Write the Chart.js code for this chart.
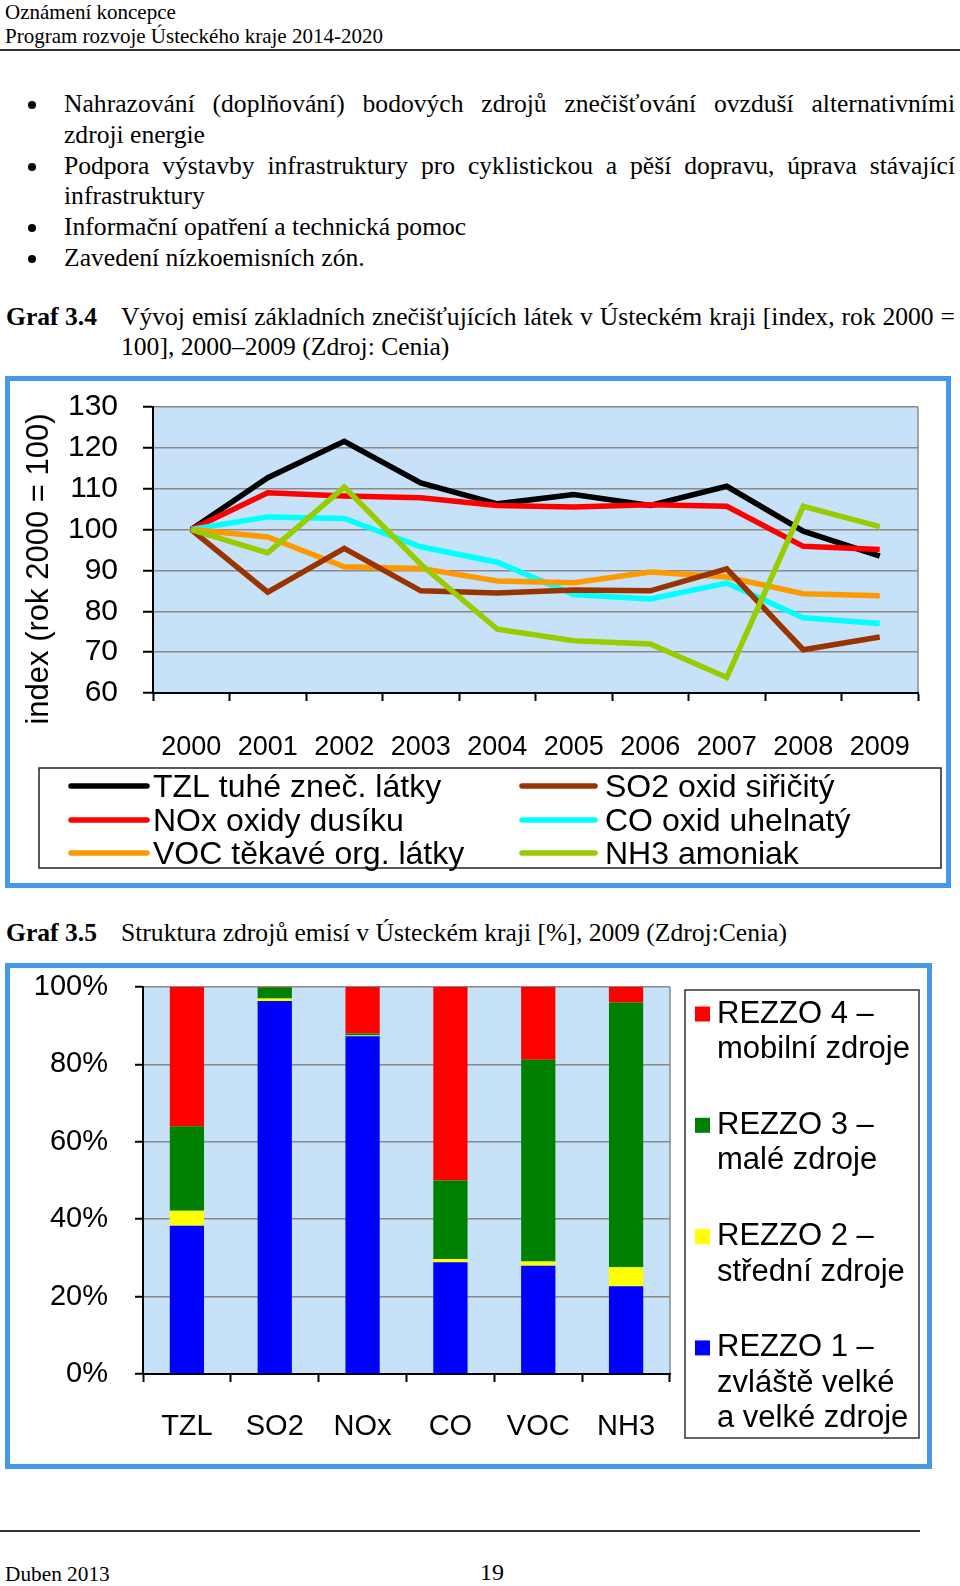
<!DOCTYPE html>
<html><head><meta charset="utf-8">
<script src="https://cdn.jsdelivr.net/npm/chart.js@4.4.0/dist/chart.umd.min.js"></script>
<style>
html,body{margin:0;padding:0;background:#fff;}
body{width:960px;height:1586px;position:relative;overflow:hidden;font-family:'Liberation Serif','Times New Roman',serif;color:#000;}
.t{position:absolute;white-space:nowrap;line-height:30px;font-size:25.6px;}
.j{text-align:justify;text-align-last:justify;white-space:nowrap;}
.hd{font-size:21px;}
.b{position:absolute;width:8px;height:8px;border-radius:50%;background:#000;left:28px;}
.rule{position:absolute;background:#333;height:2px;}
.frame{position:absolute;box-sizing:border-box;border:5px solid #4797ea;}
canvas{position:absolute;}
</style></head><body>

<div class="t hd" style="left:5px;top:-3px;">Oznámení koncepce</div>
<div class="t hd" style="left:5px;top:21px;">Program rozvoje Ústeckého kraje 2014-2020</div>
<div class="rule" style="left:0;top:49px;width:960px;"></div>

<div class="b" style="top:101px;"></div>
<div class="t j" style="left:64px;top:89px;width:891px;">Nahrazování (doplňování) bodových zdrojů znečišťování ovzduší alternativními</div>
<div class="t" style="left:64px;top:120px;">zdroji energie</div>
<div class="b" style="top:163px;"></div>
<div class="t j" style="left:64px;top:151px;width:891px;">Podpora výstavby infrastruktury pro cyklistickou a pěší dopravu, úprava stávající</div>
<div class="t" style="left:64px;top:181px;">infrastruktury</div>
<div class="b" style="top:224px;"></div>
<div class="t" style="left:64px;top:212px;">Informační opatření a technická pomoc</div>
<div class="b" style="top:255px;"></div>
<div class="t" style="left:64px;top:243px;">Zavedení nízkoemisních zón.</div>

<div class="t" style="left:6px;top:302px;font-weight:bold;">Graf 3.4</div>
<div class="t j" style="left:121px;top:302px;width:834px;">Vývoj emisí základních znečišťujících látek v Ústeckém kraji [index, rok 2000 =</div>
<div class="t" style="left:121px;top:332px;">100], 2000–2009 (Zdroj: Cenia)</div>

<div class="frame" style="left:5px;top:376px;width:946px;height:512px;"></div>
<canvas id="c1" width="936" height="502" style="left:10px;top:381px;"></canvas>

<div class="t" style="left:6px;top:918px;font-weight:bold;">Graf 3.5</div>
<div class="t" style="left:121px;top:918px;">Struktura zdrojů emisí v Ústeckém kraji [%], 2009 (Zdroj:Cenia)</div>

<div class="frame" style="left:5px;top:963px;width:927px;height:506px;"></div>
<canvas id="c2" width="917" height="496" style="left:10px;top:968px;"></canvas>

<div class="rule" style="left:0;top:1530px;width:920px;"></div>
<div class="t hd" style="left:5px;top:1559px;font-size:21.3px;">Duben 2013</div>
<div class="t" style="left:480px;top:1557px;font-size:24px;">19</div>

<script>
// ---------- data: chart 1 ----------
const years = ['2000','2001','2002','2003','2004','2005','2006','2007','2008','2009'];
const seriesNames = ['TZL tuhé zneč. látky','SO2 oxid siřičitý','NOx oxidy dusíku','CO oxid uhelnatý','VOC těkavé org. látky','NH3 amoniak'];
const tzl = [100, 112.7, 121.6, 111.4, 106.3, 108.6, 105.9, 110.6, 99.6, 93.5];
const so2 = [100, 84.7, 95.4, 85.0, 84.5, 85.2, 85.0, 90.4, 70.6, 73.7];
const nox = [100, 109.0, 108.2, 107.8, 105.9, 105.5, 106.1, 105.7, 95.9, 95.1];
const co  = [100, 103.1, 102.7, 95.8, 92.0, 84.1, 83.0, 86.9, 78.4, 77.0];
const voc = [100, 98.2, 90.9, 90.5, 87.4, 87.0, 89.6, 88.4, 84.3, 83.8];
const nh3 = [100, 94.3, 110.4, 91.5, 75.6, 72.8, 72.0, 63.8, 105.7, 100.7];
const yTicks1 = [60, 70, 80, 90, 100, 110, 120, 130];
const yTitle1 = 'index (rok 2000 = 100)';

// ---------- data: chart 2 ----------
const sources = ['TZL','SO2','NOx','CO','VOC','NH3'];
const rezzo1 = [38.3, 96.4, 87.3, 28.9, 28.0, 22.7];
const rezzo2 = [3.9, 0.6, 0.2, 0.8, 1.1, 4.9];
const rezzo3 = [21.8, 2.9, 0.5, 20.3, 52.1, 68.4];
const rezzo4 = [36.0, 0.1, 12.0, 50.0, 18.8, 4.0];
const rezzoNames = [['REZZO 1 –','zvláště velké','a velké zdroje'],['REZZO 2 –','střední zdroje'],['REZZO 3 –','malé zdroje'],['REZZO 4 –','mobilní zdroje']];
const yTicks2 = [0, 20, 40, 60, 80, 100];

const SANS = "'Liberation Sans', Arial, Helvetica, sans-serif";

const plotBg = {
  id: 'plotBg',
  beforeDraw(chart, args, o) {
    const {ctx, chartArea: a} = chart;
    ctx.save();
    ctx.fillStyle = o.color;
    ctx.fillRect(a.left, a.top, a.right - a.left, a.bottom - a.top);
    ctx.strokeStyle = o.border; ctx.lineWidth = 1.5;
    ctx.beginPath(); ctx.moveTo(a.right, a.top); ctx.lineTo(a.right, a.bottom); ctx.stroke();
    ctx.restore();
  }
};

const lineLegend = {
  id: 'lineLegend',
  afterDraw(chart, args, o) {
    const ctx = chart.ctx;
    ctx.save();
    ctx.strokeStyle = '#222'; ctx.lineWidth = 1.5;
    ctx.strokeRect(o.box[0], o.box[1], o.box[2], o.box[3]);
    ctx.font = o.font; ctx.textBaseline = 'middle'; ctx.fillStyle = '#000';
    chart.data.datasets.forEach((ds, i) => {
      const col = i % 2, row = Math.floor(i / 2);
      const y = o.rowY[row];
      const c = o.cols[col];
      ctx.strokeStyle = ds.borderColor; ctx.lineWidth = 5.5; ctx.lineCap = 'round';
      ctx.beginPath(); ctx.moveTo(c[0], y); ctx.lineTo(c[1], y); ctx.stroke();
      ctx.fillText(ds.label, c[2], y + 2);
    });
    // y-axis title
    ctx.translate(o.titleX, o.titleY);
    ctx.rotate(-Math.PI / 2);
    ctx.textAlign = 'center'; ctx.textBaseline = 'alphabetic';
    ctx.font = o.titleFont;
    ctx.fillText(o.title, 0, 0);
    ctx.restore();
  }
};

const boxLegend = {
  id: 'boxLegend',
  afterDraw(chart, args, o) {
    const ctx = chart.ctx;
    ctx.save();
    ctx.strokeStyle = '#333'; ctx.lineWidth = 1.5;
    ctx.strokeRect(o.box[0], o.box[1], o.box[2], o.box[3]);
    ctx.font = o.font; ctx.textBaseline = 'middle'; ctx.fillStyle = '#000';
    const n = chart.data.datasets.length;
    for (let k = 0; k < n; k++) {
      const ds = chart.data.datasets[n - 1 - k];
      const y0 = o.firstY + k * o.itemGap;
      ctx.fillStyle = ds.backgroundColor;
      ctx.fillRect(o.sqX, y0 - o.sq / 2, o.sq, o.sq);
      ctx.fillStyle = '#000';
      ds.label.forEach((line, li) => ctx.fillText(line, o.textX, y0 + li * o.lineGap));
    }
    ctx.restore();
  }
};

const lineColors = ['#000000', '#993300', '#ff0000', '#00ffff', '#ff9900', '#99cc00'];
const drawOrder = [6, 2, 5, 4, 3, 1];
const lineData = [tzl, so2, nox, co, voc, nh3];

new Chart(document.getElementById('c1'), {
  type: 'line',
  data: {
    labels: years,
    datasets: lineData.map((d, i) => ({
      label: seriesNames[i], data: d, borderColor: lineColors[i], backgroundColor: lineColors[i],
      borderWidth: 5.5, pointRadius: 0, tension: 0, fill: false, order: drawOrder[i]
    }))
  },
  options: {
    responsive: false, animation: false, devicePixelRatio: 1,
    layout: {padding: {top: 26, right: 28, left: 0, bottom: 0}},
    plugins: {
      legend: {display: false}, tooltip: {enabled: false},
      plotBg: {color: '#c7e1f8', border: '#8a8a8a'},
      lineLegend: {
        box: [29, 387, 902, 100], rowY: [405, 439, 472],
        cols: [[61, 137, 143], [512, 585, 595]],
        font: '32px ' + SANS,
        title: yTitle1, titleX: 38, titleY: 188, titleFont: '31px ' + SANS
      }
    },
    scales: {
      x: {
        type: 'category', offset: true,
        grid: {offset: true, drawOnChartArea: false, drawTicks: true, tickLength: 8, tickColor: '#000', tickWidth: 2},
        border: {color: '#000', width: 2},
        ticks: {font: {family: SANS, size: 27}, color: '#000', padding: 30, maxRotation: 0, autoSkip: false},
        afterFit: s => { s.height = 190; s.paddingLeft = 0; s.paddingRight = 0; }
      },
      y: {
        min: 60, max: 130,
        afterBuildTicks: s => { s.ticks = yTicks1.map(v => ({value: v})); },
        grid: {color: '#8a8a8a', lineWidth: 1.5, tickLength: 10, tickColor: '#000', tickWidth: 2},
        border: {color: '#000', width: 2},
        ticks: {font: {family: SANS, size: 30}, color: '#000', padding: 25, autoSkip: false},
        afterFit: s => { s.width = 143; s.paddingTop = 0; s.paddingBottom = 0; }
      }
    }
  },
  plugins: [plotBg, lineLegend]
});

const barColors = ['#0000ff', '#ffff00', '#008000', '#ff0000'];
const barData = [rezzo1, rezzo2, rezzo3, rezzo4];

new Chart(document.getElementById('c2'), {
  type: 'bar',
  data: {
    labels: sources,
    datasets: barData.map((d, i) => ({
      label: rezzoNames[i], data: d, backgroundColor: barColors[i], borderWidth: 0,
      barPercentage: 0.39, categoryPercentage: 1.0
    }))
  },
  options: {
    responsive: false, animation: false, devicePixelRatio: 1,
    layout: {padding: {top: 19, right: 257, left: 0, bottom: 0}},
    plugins: {
      legend: {display: false}, tooltip: {enabled: false},
      plotBg: {color: '#c7e1f8', border: '#8a8a8a'},
      boxLegend: {
        box: [675, 22, 234, 448], sqX: 685, sq: 15, textX: 707,
        firstY: 46, itemGap: 111.3, lineGap: 35.5, font: '31px ' + SANS
      }
    },
    scales: {
      x: {
        stacked: true, offset: true,
        grid: {offset: true, drawOnChartArea: false, drawTicks: true, tickLength: 8, tickColor: '#000', tickWidth: 2},
        border: {color: '#000', width: 2},
        ticks: {font: {family: SANS, size: 29}, color: '#000', padding: 28, maxRotation: 0, autoSkip: false},
        afterFit: s => { s.height = 90; s.paddingLeft = 0; s.paddingRight = 0; }
      },
      y: {
        stacked: true, min: 0, max: 100,
        afterBuildTicks: s => { s.ticks = yTicks2.map(v => ({value: v})); },
        grid: {color: '#8a8a8a', lineWidth: 1.5, tickLength: 8, tickColor: '#000', tickWidth: 2},
        border: {color: '#000', width: 2},
        ticks: {font: {family: SANS, size: 29}, color: '#000', padding: 27, autoSkip: false, callback: v => v + '%'},
        afterFit: s => { s.width = 133; s.paddingTop = 0; s.paddingBottom = 0; }
      }
    }
  },
  plugins: [plotBg, boxLegend]
});
</script>
</body></html>
